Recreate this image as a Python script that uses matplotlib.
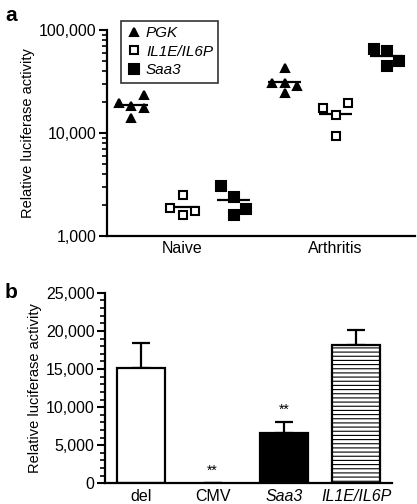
import numpy as np
import matplotlib
matplotlib.use("Agg")
import matplotlib.pyplot as plt
from matplotlib.ticker import FuncFormatter, LogLocator, MultipleLocator, NullFormatter

plt.rcParams['font.family'] = ['Liberation Sans', 'DejaVu Sans']
plt.rcParams['hatch.color'] = '#777777'
plt.rcParams['hatch.linewidth'] = 0.8

# --- panel a: luciferase activity per mouse (log scale) ---
gruppen = ['Naive', 'Arthritis']
reporter = ['PGK', 'IL1E/IL6P', 'Saa3']

pgk_naive = [19700, 18300, 23400, 17500, 14000]
pgk_arth = [42500, 30800, 30800, 28600, 24300]
il1e_naive = [1860, 2500, 1600, 1760]
il1e_arth = [17400, 15000, 19400, 9350]
saa3_naive = [3080, 2410, 1820, 1600]
saa3_arth = [66400, 63000, 50000, 44700]

# horizontal jitter of the dots within a group (in group units)
jitter_pgk_naive = [-0.25, 0.0, 0.24, 0.25, 0.0]
jitter_pgk_arth = [0.0, -0.25, 0.0, 0.25, 0.0]
jitter_sq_naive = [-0.25, 0.0, 0.0, 0.25]
jitter_il1e_arth = [-0.25, 0.0, 0.25, 0.0]
jitter_saa3_naive = [-0.25, 0.0, 0.25, 0.0]
jitter_saa3_arth = [-0.25, 0.0, 0.25, 0.0]

# --- panel b: reporter constructs ---
konstrukte = ['del', 'CMV', 'Saa3', 'IL1E/IL6P']
mittelwerte = [15160, 40, 6640, 18140]
fehler = [3280, 0, 1360, 1930]
sterne = ['', '**', '**', '']

fig = plt.figure(figsize=(4.17, 5.04), dpi=100)

ax1 = fig.add_axes([0.2566, 0.532, 0.738, 0.408])
ax1.set_yscale('log')

serien = [
    ('PGK', '^', 'black', [pgk_naive, pgk_arth], [jitter_pgk_naive, jitter_pgk_arth], -1, 5.5),
    ('IL1E/IL6P', 's', 'white', [il1e_naive, il1e_arth], [jitter_sq_naive, jitter_il1e_arth], 0, 6.3),
    ('Saa3', 's', 'black', [saa3_naive, saa3_arth], [jitter_saa3_naive, jitter_saa3_arth], 1, 7.2),
]
for name, marker, fc, werte, jit, off, ms in serien:
    for g, (w, j) in enumerate(zip(werte, jit)):
        x0 = g * 3 + off
        xs = x0 + np.array(j)
        ax1.hlines(np.mean(w), x0 - 0.32, x0 + 0.32, color='black', lw=1.6, zorder=2)
        ax1.plot(xs, w, linestyle='none', marker=marker, ms=ms, mfc=fc, mec='black',
                 mew=1.5, zorder=3, label=name if g == 0 else None)

ax1.set_xlim(-1.48, 4.55)
ax1.set_ylim(1000, 100000)
ax1.set_xticks([0, 3])
ax1.set_xticklabels(gruppen)
ax1.tick_params(axis='x', length=0, labelsize=11.5, pad=4)
ax1.yaxis.set_major_locator(LogLocator(base=10))
ax1.yaxis.set_minor_locator(LogLocator(base=10, subs=np.arange(2, 10)))
ax1.yaxis.set_minor_formatter(NullFormatter())
ax1.yaxis.set_major_formatter(FuncFormatter(lambda v, p: f'{int(round(v)):,}'))
ax1.tick_params(axis='y', which='major', length=6, width=1.5, labelsize=11.5, pad=1.5)
ax1.tick_params(axis='y', which='minor', length=3.5, width=1.2)
for s in ['top', 'right']:
    ax1.spines[s].set_visible(False)
for s in ['left', 'bottom']:
    ax1.spines[s].set_linewidth(1.6)
ax1.set_ylabel('Relative luciferase activity', fontsize=10.5, labelpad=3)

leg = ax1.legend(loc='upper left', bbox_to_anchor=(0.02, 1.083), frameon=True, fancybox=False,
                 edgecolor='black', fontsize=11, handletextpad=0.3, handlelength=1.0,
                 borderpad=0.35, labelspacing=0.3, markerscale=1.0)
leg.get_frame().set_linewidth(1.2)
for t in leg.get_texts():
    t.set_fontstyle('italic')

fig.text(0.012, 0.97, 'a', fontsize=15, fontweight='bold', va='center')

# panel b
ax2 = fig.add_axes([0.252, 0.041, 0.688, 0.378])
x = np.arange(len(konstrukte))
farben = ['white', 'white', 'black', 'white']
schraffur = [None, None, None, '----']
balken = ax2.bar(x, mittelwerte, width=0.67, color=farben, edgecolor='black', linewidth=1.6,
                 hatch=schraffur, zorder=2)
balken[1].set_edgecolor('#999999')
balken[1].set_linewidth(0.8)
ax2.errorbar(x, mittelwerte, yerr=[np.zeros(len(fehler)), fehler], fmt='none', ecolor='black',
             elinewidth=1.6, capsize=6.5, capthick=1.6, zorder=1)
for xi, m, f, s in zip(x, mittelwerte, fehler, sterne):
    if s:
        ax2.text(xi, m + f + 700, s, ha='center', va='bottom', fontsize=10)

ax2.set_xlim(-0.5, 3.5)
ax2.set_ylim(0, 25000)
ax2.set_xticks(x)
ax2.set_xticklabels(konstrukte)
for lab in ax2.get_xticklabels()[2:]:
    lab.set_fontstyle('italic')
ax2.tick_params(axis='x', length=0, labelsize=11.5, pad=4)
ax2.yaxis.set_major_locator(MultipleLocator(5000))
ax2.yaxis.set_minor_locator(MultipleLocator(1000))
ax2.yaxis.set_major_formatter(FuncFormatter(lambda v, p: f'{int(v):,}'))
ax2.tick_params(axis='y', which='major', length=6, width=1.5, labelsize=11.5, pad=1.5)
ax2.tick_params(axis='y', which='minor', length=3.5, width=1.2)
for s in ['top', 'right']:
    ax2.spines[s].set_visible(False)
for s in ['left', 'bottom']:
    ax2.spines[s].set_linewidth(1.6)
ax2.set_ylabel('Relative luciferase activity', fontsize=10.5, labelpad=3)

fig.text(0.012, 0.42, 'b', fontsize=15, fontweight='bold', va='center')

fig.savefig('out.png', dpi=100)
